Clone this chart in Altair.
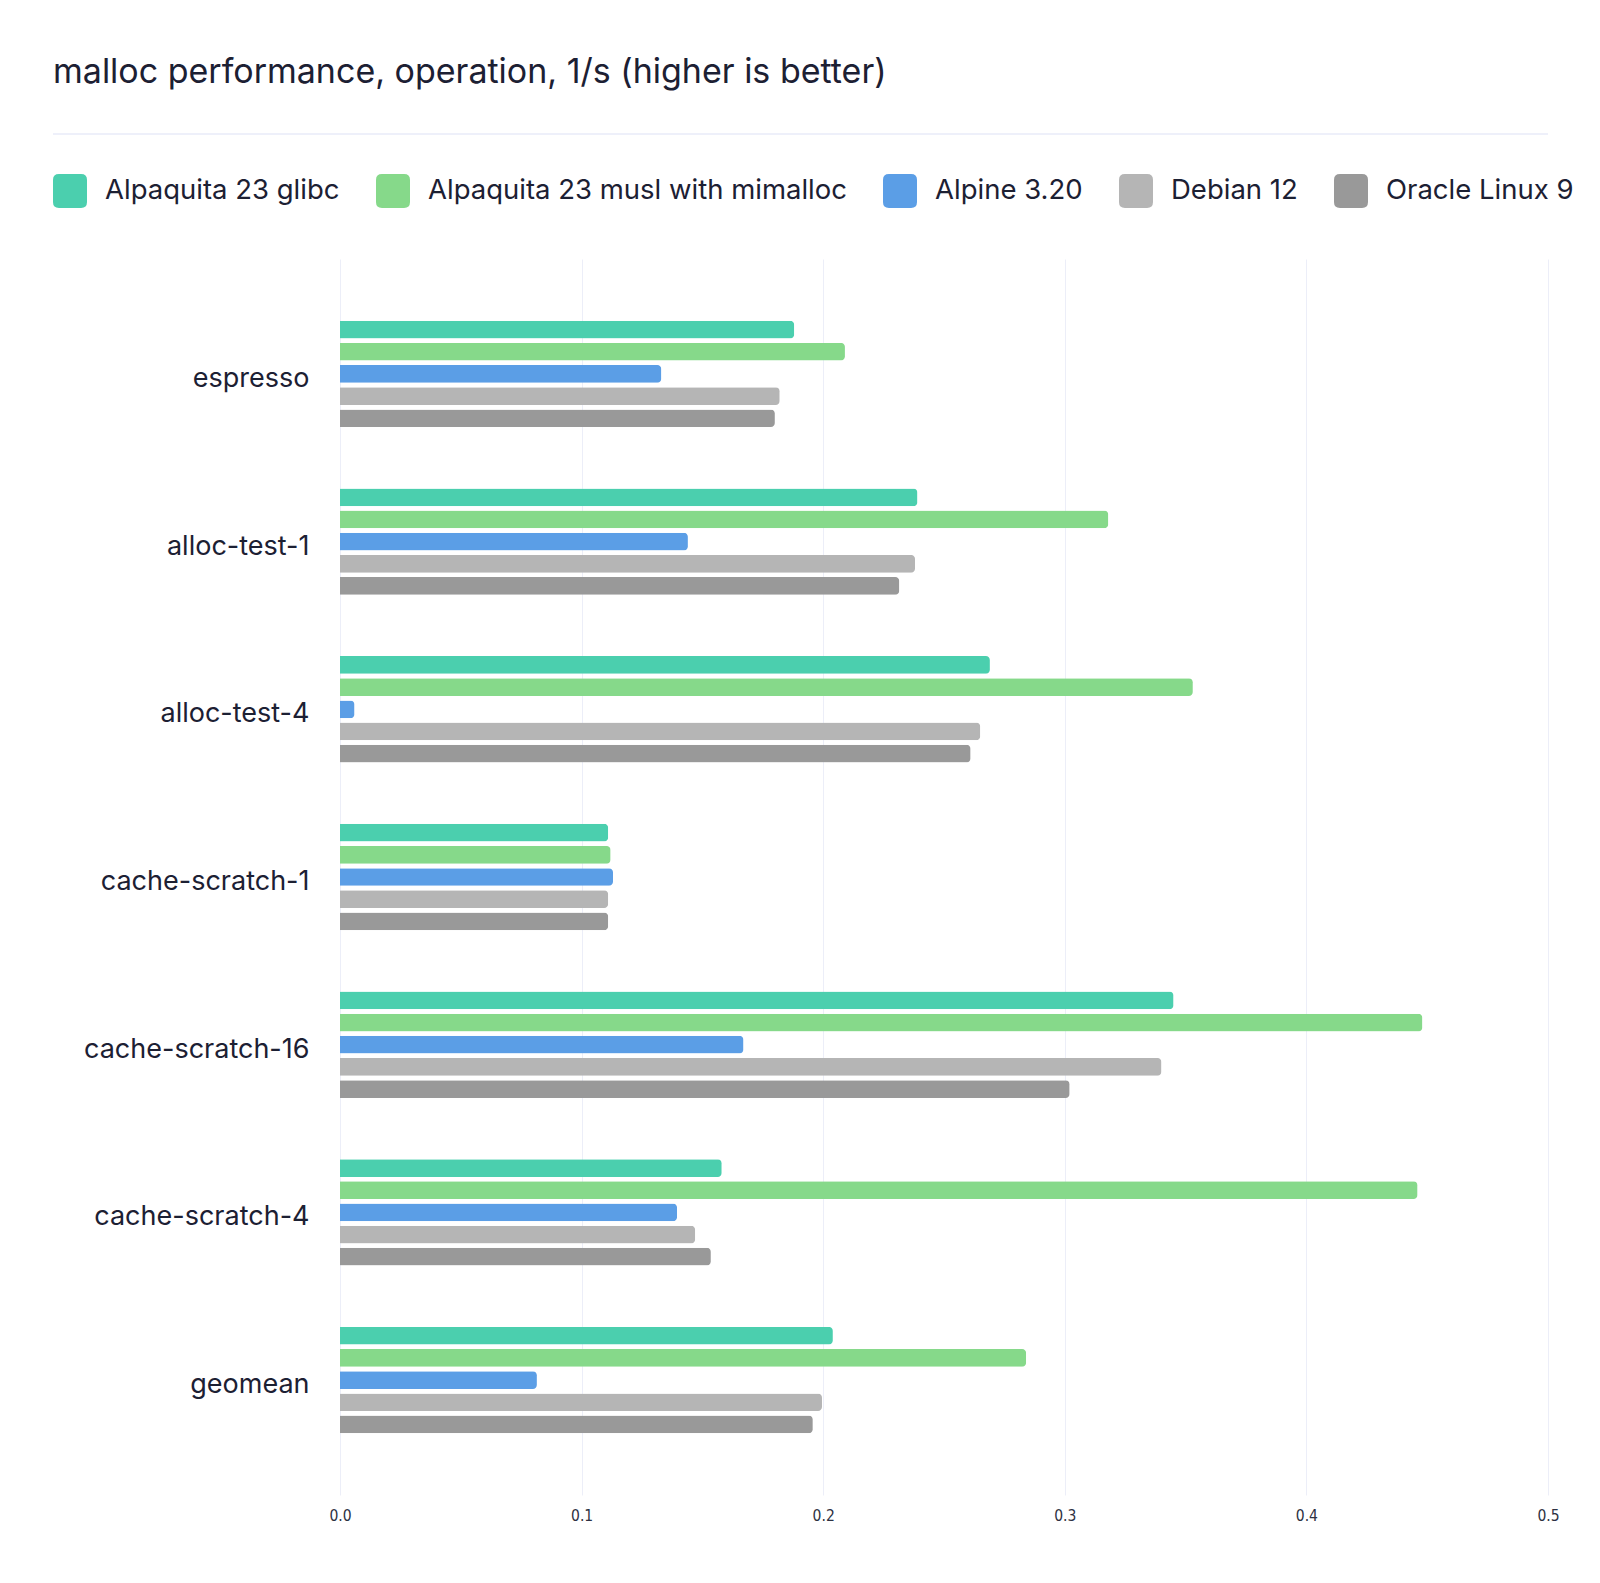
import altair as alt
import pandas as pd

title_text = "malloc performance, operation, 1/s (higher is better)"
benchmarks = ["espresso", "alloc-test-1", "alloc-test-4", "cache-scratch-1",
              "cache-scratch-16", "cache-scratch-4", "geomean"]
series = ["Alpaquita 23 glibc", "Alpaquita 23 musl with mimalloc", "Alpine 3.20",
          "Debian 12", "Oracle Linux 9"]
colors = ["#4bcfae", "#86d98a", "#5b9ee6", "#b5b5b5", "#999999"]

glibc = [0.188, 0.239, 0.269, 0.111, 0.345, 0.158, 0.204]
musl = [0.209, 0.318, 0.353, 0.112, 0.448, 0.446, 0.284]
alpine = [0.133, 0.144, 0.006, 0.113, 0.167, 0.1395, 0.0815]
debian = [0.182, 0.238, 0.265, 0.111, 0.340, 0.147, 0.1995]
oracle = [0.180, 0.2315, 0.261, 0.111, 0.302, 0.1535, 0.1957]
x_ticks = [0.0, 0.1, 0.2, 0.3, 0.4, 0.5]

rows = []
for s, vals in zip(series, [glibc, musl, alpine, debian, oracle]):
    for b, v in zip(benchmarks, vals):
        rows.append({"benchmark": b, "series": s, "value": v})
df = pd.DataFrame(rows)

FONT = "Inter"
TICK_FONT = "DejaVu Sans Condensed, Liberation Sans, sans-serif"
TEXT = "#1c2033"
W, H = 1208, 1236

rounded = ("M -0.65 -1 L 0.65 -1 Q 1 -1 1 -0.65 L 1 0.65 Q 1 1 0.65 1 L -0.65 1 "
           "Q -1 1 -1 0.65 L -1 -0.65 Q -1 -1 -0.65 -1 Z")

bars = alt.Chart(df).mark_bar(cornerRadiusEnd=4).encode(
    x=alt.X("value:Q", scale=alt.Scale(domain=[0, 0.5], nice=False),
            axis=alt.Axis(values=x_ticks, format=".1f", title=None, grid=True,
                          gridColor="#eceef8", ticks=False, domain=False,
                          labelFontSize=15.5, labelColor="#2d3142",
                          labelFont=TICK_FONT, labelFlush=False,
                          labelPadding=13)),
    y=alt.Y("benchmark:N", sort=benchmarks,
            scale=alt.Scale(paddingInner=0.3655, paddingOuter=0.368),
            axis=alt.Axis(title=None, ticks=False, domain=False, grid=False,
                          labelFontSize=27, labelColor=TEXT, labelFont=FONT,
                          labelPadding=31, labelLimit=400, labelOffset=5)),
    yOffset=alt.YOffset("series:N", sort=series,
                        scale=alt.Scale(paddingInner=0.2, paddingOuter=0)),
    color=alt.Color("series:N", sort=series,
                    scale=alt.Scale(domain=series, range=colors),
                    legend=alt.Legend(orient="none", legendX=-287, legendY=-85,
                                      direction="horizontal", title=None,
                                      symbolType=rounded, symbolSize=1156,
                                      symbolStrokeWidth=0, symbolOpacity=1,
                                      labelFontSize=27.5, labelFont=FONT,
                                      labelColor=TEXT, labelOffset=18,
                                      columnPadding=36, padding=0,
                                      labelLimit=600)),
)

title = alt.Chart(pd.DataFrame({"t": [title_text]})).mark_text(
    align="left", baseline="middle", fontSize=34, font=FONT, color=TEXT
).encode(x=alt.value(-287), y=alt.value(-186), text="t:N")

sep = alt.Chart(pd.DataFrame({"a": [0]})).mark_rule(
    color="#eef0fa", strokeWidth=2
).encode(x=alt.value(-287), x2=alt.value(W), y=alt.value(-125))

chart = alt.layer(sep, title, bars).properties(
    width=W, height=H,
    autosize=alt.AutoSizeParams(type="none"),
    padding={"left": 332, "top": 251, "right": 44, "bottom": 80},
    background="white",
).configure_view(stroke=None)

chart.save("out.html", embed_options={"renderer": "svg", "actions": False})
